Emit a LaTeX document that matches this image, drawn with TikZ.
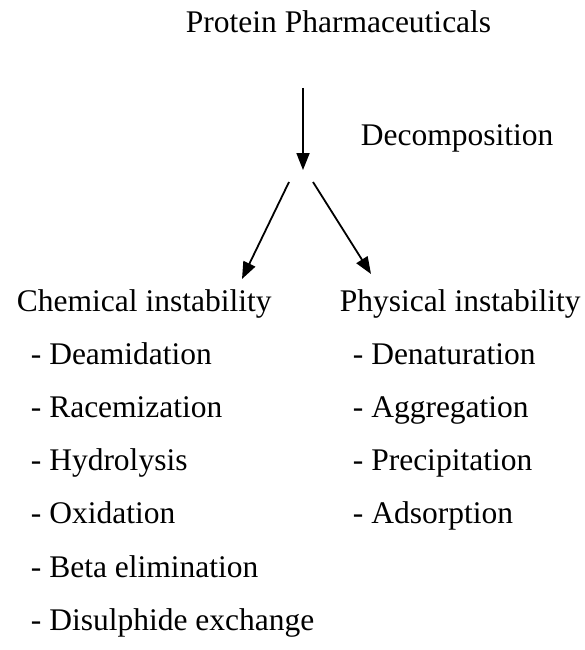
\documentclass[tikz,border=0pt]{standalone}
\usepackage{fontspec}
\setmainfont{Liberation Serif}
\usetikzlibrary{arrows.meta,positioning}
\tikzset{>={Triangle[length=17pt,width=13pt]}}
\tikzset{lbl/.style={anchor=base west,inner sep=0pt,font=\fontsize{31.5}{38}\selectfont}}

\begin{document}
\begin{tikzpicture}[x=1pt,y=-1pt,line width=1.8pt]
    \useasboundingbox (0,0) rectangle (585,650);
    % top
    \node[lbl] (prot) at (185,33) {Protein Pharmaceuticals};
    \node[lbl] (decomp) at (360,145) {Decomposition};
    \coordinate (dtop) at (303,88);
    \coordinate (dend) at (303,170);
    \coordinate (lstart) at (289,182);
    \coordinate (lend) at (242,279);
    \coordinate (rstart) at (313,182);
    \coordinate (rend) at (371,274);
    \draw[->] (dtop) -- (dend);
    \draw[->] (lstart) -- (lend);
    \draw[->] (rstart) -- (rend);
    % chemical
    \node[lbl] (chem) at (16,311) {Chemical instability};
    \node[lbl] (deam) at (30,364) {- Deamidation};
    \node[lbl] (race) at (30,417) {- Racemization};
    \node[lbl] (hydro) at (30,470) {- Hydrolysis};
    \node[lbl] (oxid) at (30,523) {- Oxidation};
    \node[lbl] (beta) at (30,577) {- Beta elimination};
    \node[lbl] (disul) at (30,630) {- Disulphide exchange};
    % physical
    \node[lbl] (phys) at (339,311) {Physical instability};
    \node[lbl] (denat) at (352,364) {- Denaturation};
    \node[lbl] (aggr) at (352,417) {- Aggregation};
    \node[lbl] (precip) at (352,470) {- Precipitation};
    \node[lbl] (adsorp) at (352,523) {- Adsorption};
\end{tikzpicture}
\end{document}
